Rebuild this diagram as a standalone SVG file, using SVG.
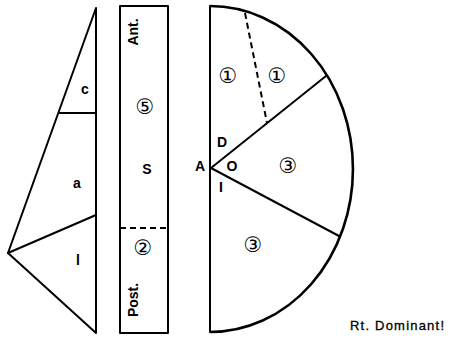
<svg xmlns="http://www.w3.org/2000/svg" width="454" height="339" viewBox="0 0 454 339">
<style>
.ln{stroke:#000;stroke-width:2;fill:none;stroke-linecap:round;stroke-linejoin:round}
.arc{stroke:#000;stroke-width:2.6;fill:none}
.ds{stroke:#000;stroke-width:2;fill:none;stroke-dasharray:6,4}
.t{font-family:"Liberation Sans",Arial,sans-serif;font-size:14px;font-weight:bold;fill:#000;text-anchor:middle}
.n{font-family:"DejaVu Sans",sans-serif;font-size:21px;fill:#000;text-anchor:middle}
</style>
<rect width="454" height="339" fill="#fff"/>
<g id="triangle">
<path class="ln" d="M96,8 L96,333 L8,253 Z"/>
<line class="ln" x1="59" y1="113" x2="96" y2="113"/>
<line class="ln" x1="8" y1="253" x2="96" y2="215"/>
<text class="t" x="85" y="94">c</text>
<text class="t" x="77" y="188">a</text>
<text class="t" x="78" y="265">l</text>
</g>
<g id="strip">
<rect class="ln" x="120" y="6" width="48" height="327"/>
<line class="ds" x1="120" y1="228" x2="168" y2="228"/>
<text class="t" transform="translate(138,32) rotate(-90)">Ant.</text>
<text class="n" x="145" y="114">⑤</text>
<text class="t" x="147" y="174">S</text>
<text class="n" x="143" y="255">②</text>
<text class="t" transform="translate(138,300) rotate(-90)">Post.</text>
</g>
<g id="semicircle">
<path class="arc" d="M210,6 A143,163 0 0 1 210,332"/>
<line class="ln" x1="210" y1="6" x2="210" y2="332"/>
<line class="ln" x1="211" y1="168" x2="326" y2="76"/>
<line class="ln" x1="211" y1="168" x2="339" y2="236"/>
<line class="ds" x1="245" y1="13" x2="267" y2="123"/>
<text class="n" x="228" y="83">①</text>
<text class="n" x="277" y="83">①</text>
<text class="n" x="288" y="173">③</text>
<text class="n" x="253" y="252">③</text>
<text class="t" x="222" y="147">D</text>
<text class="t" x="200" y="171">A</text>
<text class="t" x="232" y="171">O</text>
<text class="t" x="221" y="192">I</text>
</g>
<text x="397" y="330" style="font-family:'Liberation Sans',Arial,sans-serif;font-size:13px;text-anchor:middle;stroke:#000;stroke-width:0.3" textLength="94">Rt.  Dominant!</text>
</svg>
